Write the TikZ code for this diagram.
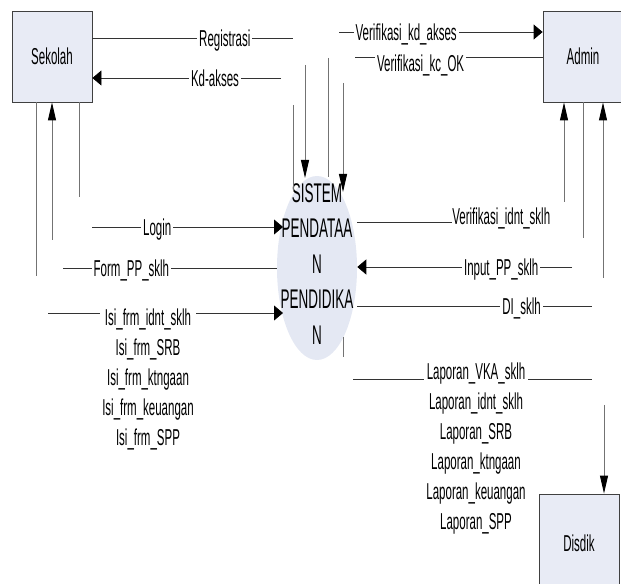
\documentclass[tikz,border=0pt]{standalone}
\usepackage{fontspec}
\setmainfont[FakeStretch=0.5]{Liberation Sans}
\usetikzlibrary{arrows.meta,shapes.geometric}
\definecolor{boxfill}{HTML}{E8EBF5}
\definecolor{bubblefill}{HTML}{E4E8F3}

\begin{document}
\begin{tikzpicture}[x=0.75pt, y=-0.75pt,
  every node/.style={font=\fontsize{17.25}{22.5}\selectfont},
  entity/.style={draw=black!75, fill=boxfill, minimum width=60pt, line width=0.6pt},
  proc/.style={ellipse, fill=bubblefill, minimum width=60pt, minimum height=138pt, inner sep=0pt},
  proctext/.style={align=center, font=\fontsize{20.25}{26.6}\selectfont},
  flow/.style={draw=black!80, line width=0.6pt},
  vflow/.style={draw=black!55, line width=0.7pt},
  lbl/.style={fill=white, inner xsep=1.5pt, inner ysep=1pt, text height=12.4pt, text depth=0pt},
  lstack/.style={fill=white, inner xsep=1.5pt, inner ysep=0pt, align=center, anchor=north},
  htip/.style={-{Triangle[length=6.75pt, width=11.25pt, color=black]}},
  vtip/.style={-{Triangle[length=13.5pt, width=6pt, color=black]}}]
  \useasboundingbox (0,0) rectangle (621,584);

  % external entities and the process
  \node[entity, minimum height=68.25pt] (sekolah) at (52,56.5) {Sekolah};
  \node[entity, minimum height=68.25pt] (admin) at (583,56.5) {Admin};
  \node[entity, minimum height=73.5pt] (disdik) at (579,543) {Disdik};
  \node[proc] (sistem) at (317,268) {};
  \node[proctext] (sistemtxt) at (317,264) {SISTEM\\PENDATAA\\N\\PENDIDIKA\\N};

  % free ends of the flows
  \coordinate (regend) at (293,38);
  \coordinate (kdstart) at (281,78);
  \coordinate (v1top) at (293,105);  \coordinate (v1bot) at (293,191);
  \coordinate (v2top) at (305,65);   \coordinate (v2bot) at (305,178);
  \coordinate (v3top) at (328,58);   \coordinate (v3bot) at (328,177);
  \coordinate (v4top) at (343,83);   \coordinate (v4bot) at (343,192);
  \coordinate (vkastart) at (339,32);
  \coordinate (vokstart) at (355,57);
  \coordinate (adm1) at (564,202);
  \coordinate (adm2) at (583,238);
  \coordinate (adm3) at (603,278);
  \coordinate (sek1) at (36,276);
  \coordinate (sek2) at (52,240);
  \coordinate (sek3) at (79,197);
  \coordinate (loginend) at (283,227);
  \coordinate (formstart) at (63,268);
  \coordinate (isistart) at (48,313);
  \coordinate (isiend) at (283,313);
  \coordinate (vidend) at (452,222);
  \coordinate (inpstart) at (572,267);
  \coordinate (diend) at (592,306);
  \coordinate (ticktop) at (343,337); \coordinate (tickbot) at (343,357);
  \coordinate (lapstart) at (353,379); \coordinate (lapend) at (592,379);
  \coordinate (disdikin) at (604,405);

  % Sekolah <-> sistem
  \draw[flow] (sekolah.east |- regend) -- node[lbl, pos=0.66] {Registrasi} (regend);
  \draw[flow, htip] (kdstart) -- node[lbl, pos=0.35] {Kd-akses} (sekolah.east |- kdstart);
  \draw[flow, htip] (sekolah.east |- loginend) -- node[lbl, pos=0.34] {Login} (loginend);
  \draw[flow] (formstart) -- node[lbl, pos=0.32] {Form\_PP\_sklh} (sistem.west |- formstart);
  \draw[flow, htip] (isistart) -- (isiend);
  \node[lstack] (isilbl) at (148,309) {Isi\_frm\_idnt\_sklh\\Isi\_frm\_SRB\\Isi\_frm\_ktngaan\\Isi\_frm\_keuangan\\Isi\_frm\_SPP};
  \draw[vflow] (sekolah.south -| sek1) -- (sek1);
  \draw[vflow, vtip] (sek2) -- (sekolah.south -| sek2);
  \draw[vflow] (sekolah.south -| sek3) -- (sek3);

  % verticals into the top of sistem
  \draw[vflow] (v1top) -- (v1bot);
  \draw[vflow, vtip] (v2top) -- (v2bot);
  \draw[vflow] (v3top) -- (v3bot);
  \draw[vflow, vtip] (v4top) -- (v4bot);

  % Admin <-> sistem
  \draw[flow, htip] (vkastart) -- node[lbl, pos=0.33] {Verifikasi\_kd\_akses} (admin.west |- vkastart);
  \draw[flow] (vokstart) -- node[lbl, pos=0.35, yshift=-4.5pt] {Verifikasi\_kc\_OK} (admin.west |- vokstart);
  \draw[flow] (sistem.east |- vidend) -- (vidend) node[lbl, anchor=west, yshift=4.5pt, inner xsep=0pt] {Verifikasi\_idnt\_sklh};
  \draw[flow, htip] (inpstart) -- node[lbl, pos=0.33] {Input\_PP\_sklh} (sistem.east |- inpstart);
  \draw[flow] (sistem.east |- diend) -- node[lbl, pos=0.7] {DI\_sklh} (diend);
  \draw[vflow, vtip] (adm1) -- (admin.south -| adm1);
  \draw[vflow] (adm2) -- (admin.south -| adm2);
  \draw[vflow, vtip] (adm3) -- (admin.south -| adm3);

  % reports to Disdik
  \draw[vflow] (ticktop) -- (tickbot);
  \draw[flow] (lapstart) -- (lapend);
  \node[lstack] (laplbl) at (476,363) {Laporan\_VKA\_sklh\\Laporan\_idnt\_sklh\\Laporan\_SRB\\Laporan\_ktngaan\\Laporan\_keuangan\\Laporan\_SPP};
  \draw[vflow, vtip] (disdikin) -- (disdik.north -| disdikin);
\end{tikzpicture}
\end{document}
